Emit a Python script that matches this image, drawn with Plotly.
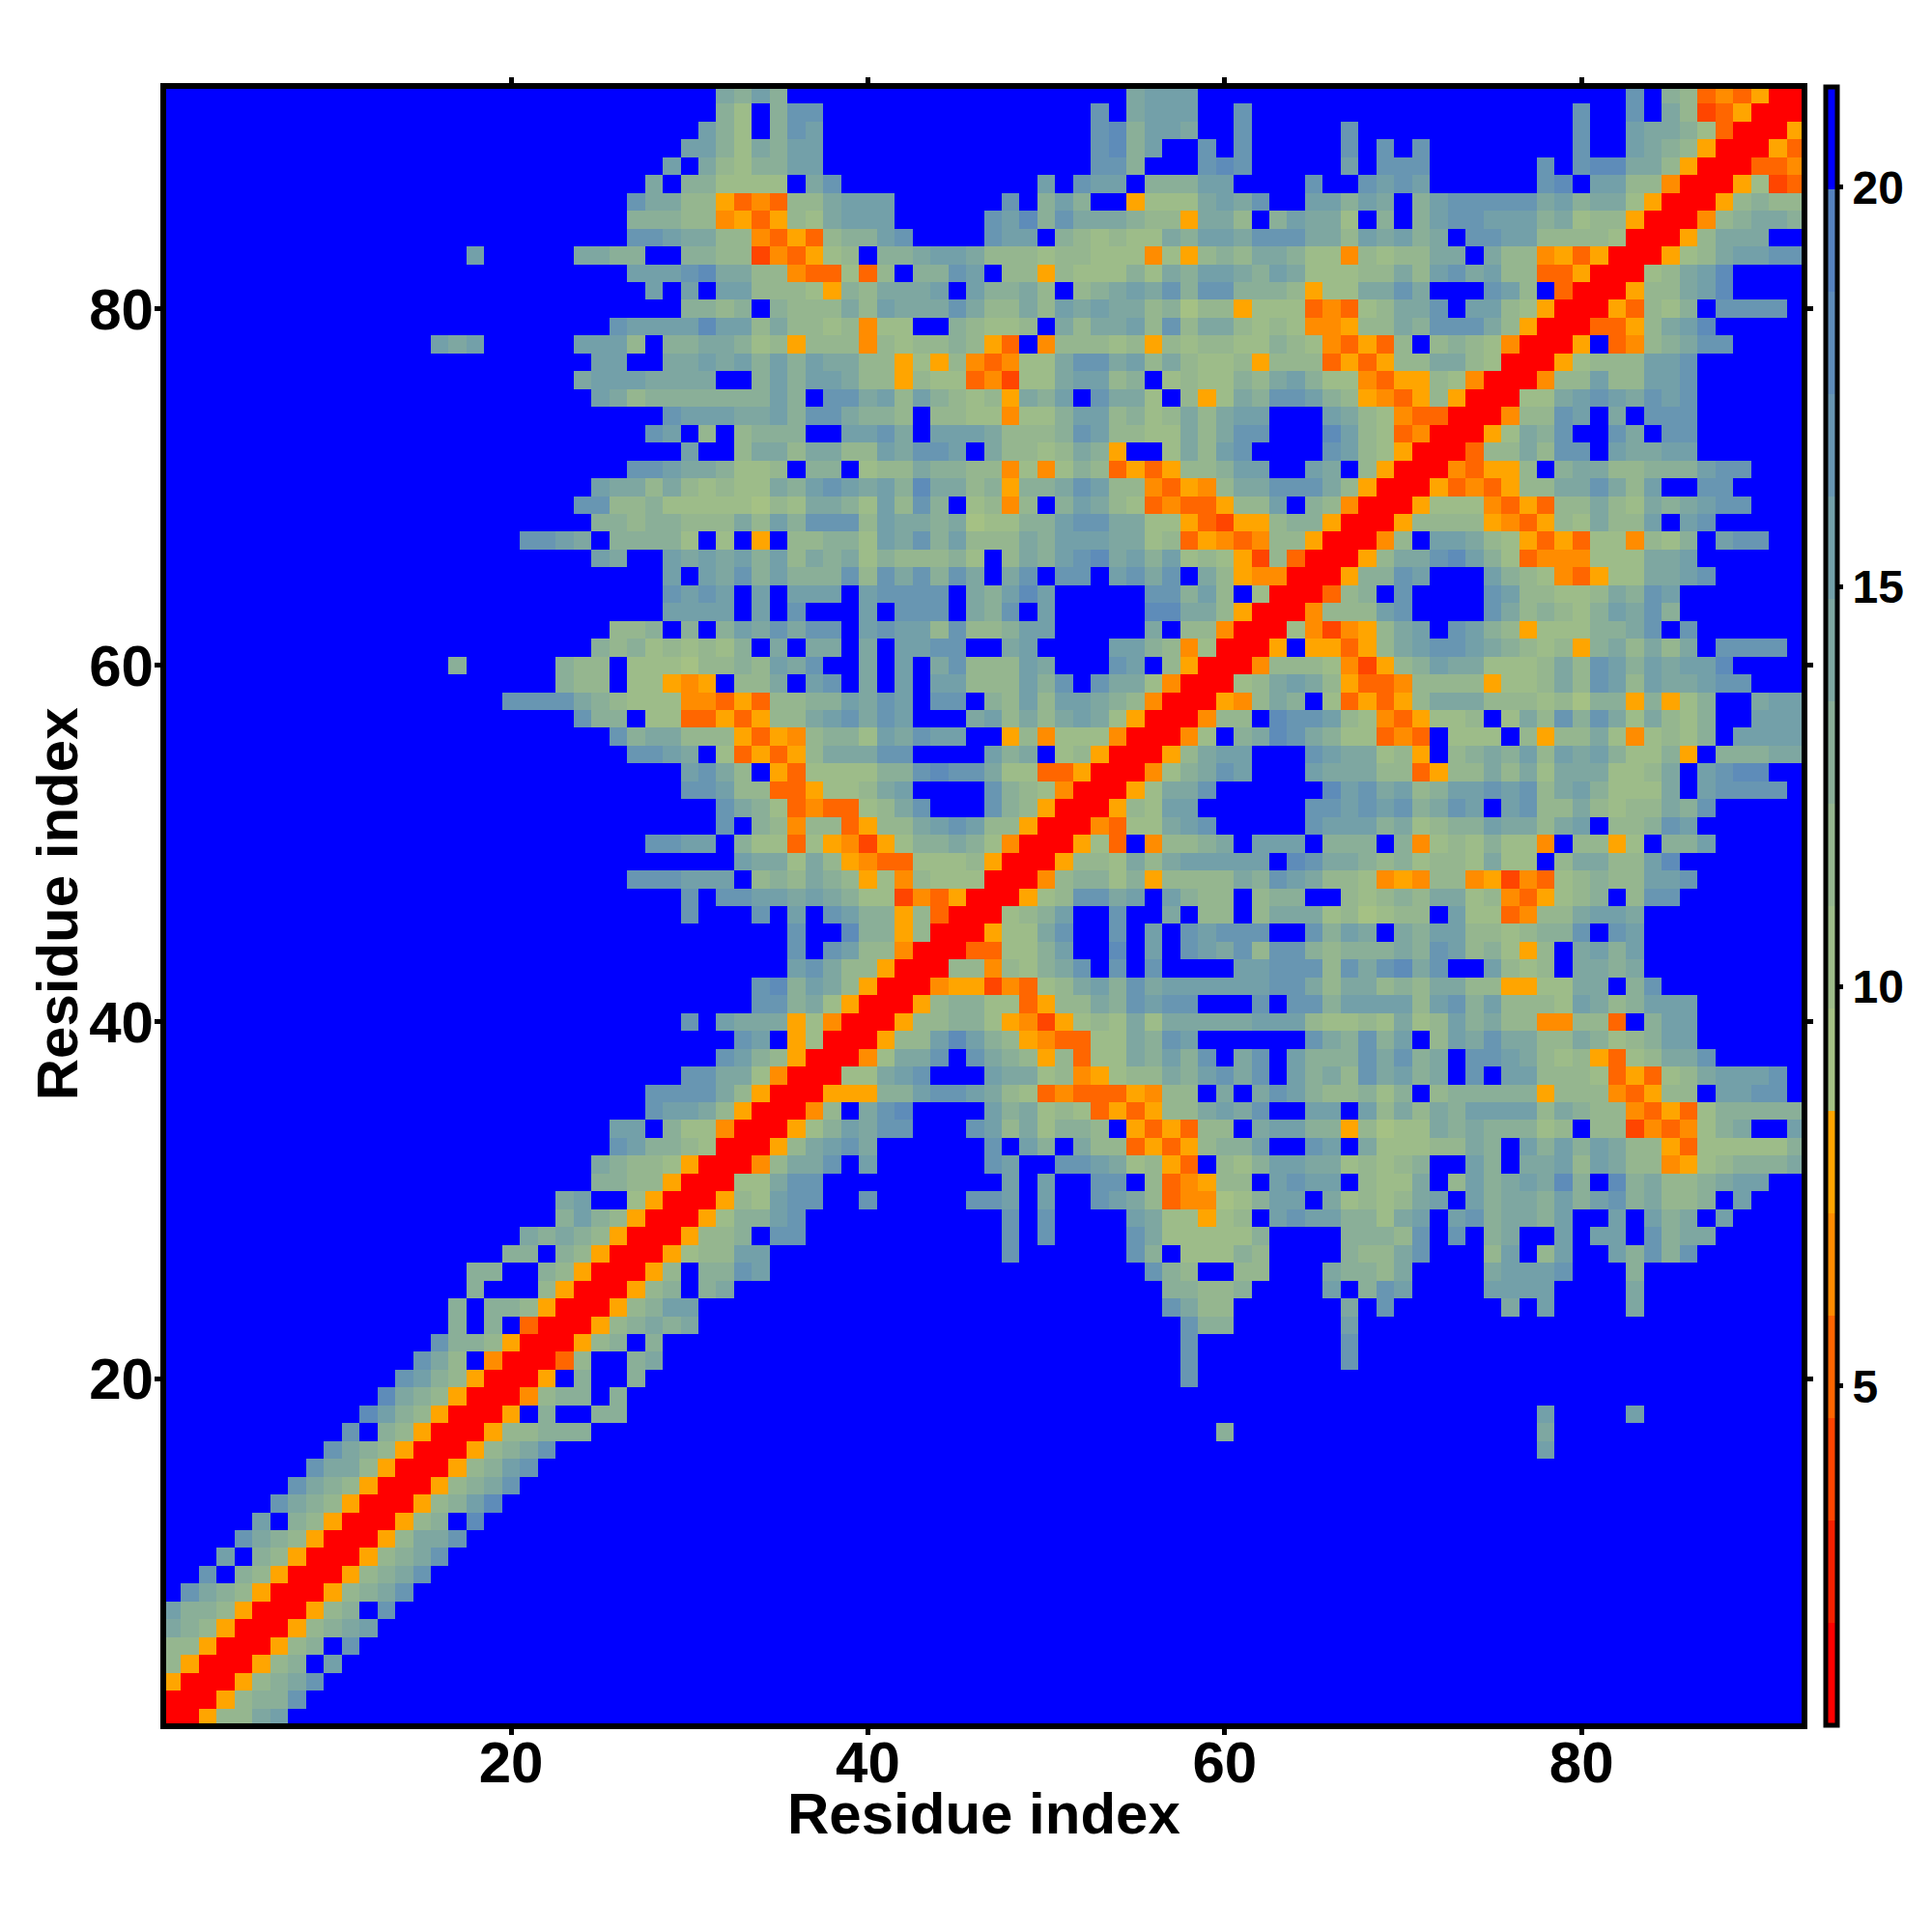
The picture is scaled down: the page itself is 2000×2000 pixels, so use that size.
import numpy as np
import plotly.graph_objects as go

N_RES = 92
residues = list(range(1, N_RES + 1))
TICKS = [20, 40, 60, 80]
BAR_TICKS = [5, 10, 15, 20]
Z_MIN, Z_MAX = 0.76, 21.26
N_BANDS = 16
BAND_COLORS = ["#ff0000", "#f62000", "#ff4500", "#ff6600", "#ff8c00", "#ffa500",
               "#a5c184", "#9dbc89", "#95b68f", "#8aaf98", "#7ea7a1", "#73a0a9",
               "#6896b2", "#5e8cb9", "#5582bf", "#0000ff"]

# Distance bands, one hex digit per residue (f = beyond 20 A).
# Each row: residue -> "first_residue:digits" pieces, lower residues only (the map is symmetric).
UPPER = {
92: "32:a9b9 55:abbb 83:cf9834350",
91: "32:97f9cc 53:cfabbb 61:c 80:c 83:cfa82350",
90: "31:b97f9cb 53:cd9bba 61:c 67:c 80:c 83:baa9730",
89: "30:bb97a9bb 53:cd9b 59:c 61:c 67:c 69:c 71:c 80:c 83:ba9850",
88: "29:bfa8799bb 53:cc9 59:cdc 67:b 69:cc 71:c 78:cfcdd 83:aa850",
87: "28:af997777fac 50:bfcbbf999bb 65:c 68:cbcb 78:cdfbb 83:8840",
86: "27:caa88534388abbb 48:cf9b9ff5777 59:abac 65:bb9baf9b 73:cccccab9aa750",
85: "27:99988453587abbb 47:cbd9caaa9885aa8f9baa7f9f9bccbbb9a78850",
84: "27:ccbaa884353899bc 47:cbbf987877a9bbacccaa8bab9afccbb888870",
83: "18:b 24:aa99ff9988243578f99abba 47:888788777475898aa97748788aafa8845350",
82: "27:bbbcdaa88433738f99cbf 48:885877797a9bba9ba77788a8bcab883350",
81: "28:bfbfbb8887598aaabfb9 48:9a8f89abac9cc9998577aacafffcb8f30",
80: "30:9989f9888a8baaaca8 48:8a8babaa89688577734378aacfbb8750",
79: "26:cbbbbdbb8a8878477ff987 48:78fa8aab8c8aa878744588a9ccca850",
78: "16:bab 24:bbb8f99aa978588848788985 48:3f488878587887798743538f898740",
77: "25:bbffaabab9b9baa88575843 48:477accab8a87785888353588aa870",
76: "24:abbbaaaaff9b9bba88587734 48:277abb89f787798ab97743558740",
75: "25:ba89999999b9fccab8b9878 48:5a9bfcaa7f857a9ccb985435850",
74: "29:cbbbaab9cca998f8877 48:4779bb8978a8abbfffba874330",
73: "28:cbf8f8999ffbbcafbbba 48:8889cb8877a8accfffdb87340",
72: "30:bff8aa8aa88baccbfa 48:8878a95ff7a8bcffffcb8750",
71: "27:ccbaa9778f99f788a9988 48:4747983535889bbffbaf850",
70: "25:baa8a87877a9bcbab9daa89 48:599acb8843548aaccca850",
69: "24:cc88977777687aa97b8c9f78 48:48f9ba873433588bf9840",
68: "25:99899888a8b9ccc8baa9a67 48:799bccaa775325589950",
67: "21:ccbaf99997f7f5f88997bac9b88 48:8a9bbbaa78354348850",
66: "25:baffbabab9b8a9a7988897f 48:8a9bcdab9b78752830",
65: "29:bfbac9b999c8cac9caf 48:acfccfbcacfa85440",
64: "29:cbcbfbfbbbfbccccfa9 48:bdbfffffcc9b8f70",
63: "29:bbbbfbfcfffbfcccfa9 48:cfbfffffddaa850",
62: "26:889f9f9bacaccfbcbb8c88 48:9bbfffffaf8840",
61: "25:989787879fafaafafbbccff 48:abffffbb98470",
60: "17:9 23:988f77768898bacffafbfac88 48:8bafffcbf850",
59: "23:988f77545f88afbcfafbfbb88 48:8b9cfcaa740",
58: "20:cccca98777443538899bacbfccf9 48:8b8bba9840",
57: "24:c99f773353588abcacbfffab 48:8a8aba750",
56: "26:c9aa88853548997bacbbff 48:58477740",
55: "27:ccbaf735358aaaccffffb 48:9af7850",
54: "30:bca8f53777799cdcca 48:773350",
53: "30:ccb88335778abffffc 48:98740",
52: "32:ca97343378acfffc 48:9850",
51: "32:cf984883588abcb8 48:850",
50: "28:ccbbf977375425799a97 48:40",
49: "33:baa7a85433777850",
48: "27:cccbbbf898a9857487770",
47: "30:cfccbbaba97724350",
46: "30:cfffcfbfcb995830",
45: "36:cffd99580",
44: "36:cfcb8840",
43: "36:bca8850",
42: "34:cd9ba850",
41: "34:cc9a750",
40: "30:cfbaaa5740",
39: "33:cbf570",
38: "32:cb9850",
37: "30:ccaa740",
36: "28:cccca850",
35: "28:cbba850",
34: "26:bbf97740",
33: "26:cb99870",
32: "25:a988750",
31: "25:998850",
30: "23:abff750",
29: "23:9b9850",
28: "21:a9a9850",
27: "20:99f9850",
26: "18:99ff9850",
25: "18:9fff850",
24: "17:9f99850",
23: "17:9f9f30",
22: "16:c99850",
21: "15:ca8f40",
20: "14:cb9850",
19: "13:da9850",
18: "12:db9850",
17: "11:cf9850",
16: "10:ca9850",
15: "9:caa850",
14: "8:ca9850",
13: "7:ca9850",
12: "6:bf9850",
11: "5:ca9850",
10: "4:bf9850",
9: "3:cf9850",
8: "2:ca9850",
7: "1:b99850",
6: "1:a9850",
5: "1:8850",
4: "1:850",
3: "1:50",
2: "1:0",
}

band_w = (Z_MAX - Z_MIN) / N_BANDS
value_of = lambda digit: Z_MIN + band_w * (int(digit, 16) + 0.5)

Z = np.full((N_RES, N_RES), value_of("f"))
for i in range(N_RES):
    Z[i, i] = value_of("0")
for row, pieces in UPPER.items():
    for piece in pieces.split():
        start, digits = piece.split(":")
        for k, d in enumerate(digits):
            col = int(start) + k
            if col == row:
                continue
            Z[row - 1, col - 1] = value_of(d)
            Z[col - 1, row - 1] = value_of(d)

scale = []
for i, c in enumerate(BAND_COLORS):
    scale.append([i / N_BANDS, c])
    scale.append([(i + 1) / N_BANDS, c])

FONT = "Liberation Sans"
BLACK = "#000000"
W = H = 2000
PX0, PX1 = 172.3, 1864.6
PY0, PY1 = 91.9, 1784.0
cell = 18.46
trim_x = (PX0 - 169.3) / cell
trim_y = 3.0 / cell
TITLE = "Residue index"
title_font = dict(family=FONT, size=60, color=BLACK, weight="bold")

fig = go.Figure(go.Heatmap(
    x=residues, y=residues, z=Z,
    zmin=Z_MIN, zmax=Z_MAX, colorscale=scale,
    colorbar=dict(
        thicknessmode="pixels", thickness=11.5,
        lenmode="pixels", len=1696,
        x=(1889.5 - PX0) / (PX1 - PX0), xanchor="left", xpad=0,
        y=(PY1 - 937.5) / (PY1 - PY0), yanchor="middle", ypad=0,
        outlinewidth=5, outlinecolor=BLACK,
        borderwidth=0,
        tickmode="array", tickvals=BAR_TICKS, ticktext=[str(t) for t in BAR_TICKS],
        ticks="outside", ticklen=4, tickwidth=5, tickcolor=BLACK,
        tickfont=dict(family=FONT, size=48, color=BLACK, weight="bold"),
    ),
))

axis = dict(
    tickmode="array", tickvals=TICKS, ticktext=[str(t) for t in TICKS],
    ticks="outside", ticklen=6, tickwidth=5, tickcolor=BLACK,
    showline=True, linewidth=6, linecolor=BLACK, mirror="ticks",
    showgrid=False, zeroline=False,
    tickfont=dict(family=FONT, size=60, color=BLACK, weight="bold"),
)
fig.update_layout(
    width=W, height=H,
    paper_bgcolor="white", plot_bgcolor="white",
    margin=dict(l=PX0, r=W - PX1, t=PY0, b=H - PY1, autoexpand=False),
    xaxis=dict(axis, range=[0.5 + trim_x, 92.5 - trim_x], ticklabelstandoff=-23),
    yaxis=dict(axis, range=[0.5 + trim_y, 92.5 - trim_y], ticklabelstandoff=-11),
    annotations=[
        dict(text=TITLE, xref="paper", yref="paper", x=0.5, y=(PY1 - 1878) / (PY1 - PY0),
             xanchor="center", yanchor="middle", showarrow=False, font=title_font),
        dict(text=TITLE, xref="paper", yref="paper", x=(60 - PX0) / (PX1 - PX0), y=0.5014,
             xanchor="center", yanchor="middle", showarrow=False, textangle=-90, font=title_font),
    ],
)
fig.write_html("out.html", config=dict(displayModeBar=False),
               post_script="document.body.style.margin='0';")
